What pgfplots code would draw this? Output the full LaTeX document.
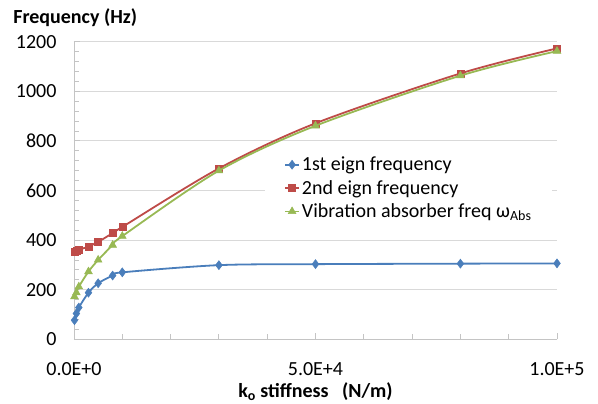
\documentclass[border=0pt]{standalone}
\usepackage{pgfplots}
\pgfplotsset{compat=1.18}
\usepackage{fontspec}
\setmainfont{Carlito}

\definecolor{serA}{HTML}{4A7EBB}
\definecolor{serB}{HTML}{BE4B48}
\definecolor{serC}{HTML}{98B954}
\definecolor{gridgray}{HTML}{D9D9D9}
\definecolor{axisgray}{HTML}{C4C4C4}

\begin{document}
\begin{tikzpicture}
\path[use as bounding box] (-74pt,-64.7pt) rectangle (524pt,339.3pt);
\begin{axis}[
    at={(0,0)}, anchor=south west,
    width=483pt, height=297.6pt, scale only axis,
    clip mode=individual,
    xmin=0, xmax=100000, ymin=0, ymax=1200,
    axis x line*=bottom, axis y line*=left,
    axis line style={draw=axisgray, line width=0.8pt},
    ytick={0,200,...,1200}, minor y tick num=4,
    xtick={0,50000,100000}, xticklabels={0.0E+0,5.0E+4,1.0E+5},
    minor xtick={10000,20000,30000,40000,60000,70000,80000,90000},
    scaled x ticks=false,
    ymajorgrids, grid style={draw=gridgray, line width=0.8pt},
    tick align=inside, major tick length=6pt, minor tick length=5pt,
    tick style={draw=axisgray, line width=0.8pt},
    /pgf/number format/.cd, 1000 sep={}, assume math mode=true, /pgfplots/.cd,
    tick label style={font=\fontsize{20}{24}\selectfont, text=black},
    yticklabel style={xshift=-14pt},
    xticklabel style={yshift=-20pt},
    xlabel={\textbf{k\textsubscript{o} stiffness\ \ \ (N/m)}},
    xlabel style={font=\fontsize{20}{24}\selectfont, at={(axis description cs:0.5,0)},
        anchor=center, yshift=-52pt},
    legend cell align=left,
    legend style={at={(0.3954,0.633)}, anchor=north west, fill=white, draw=none,
        font=\fontsize{20}{24}\selectfont, inner xsep=19pt, inner ysep=4pt,
        nodes={inner sep=2pt}, row sep=4pt},
    legend image code/.code={\draw[mark repeat=2,mark phase=2,#1]
        plot coordinates {(0pt,0pt) (7pt,0pt) (14pt,0pt)};},
    every axis plot/.append style={line width=1.8pt, smooth, tension=0.5},
]
\addplot[color=serA, mark=diamond*, mark size=4.5pt, mark options={line width=0.5pt}]
    coordinates {(100,77) (500,104) (1000,128) (3000,188) (5000,226) (8000,257)
    (10000,270) (30000,299) (50000,303) (80000,305) (100000,306)};
\addlegendentry{1st eign frequency}
\addplot[color=serB, mark=square*, mark size=3.5pt, mark options={line width=0.5pt}]
    coordinates {(100,355) (500,357) (1000,361) (3000,374) (5000,393) (8000,428)
    (10000,453) (30000,689) (50000,871) (80000,1072) (100000,1173)};
\addlegendentry{2nd eign frequency}
\addplot[color=serC, mark=triangle*, mark size=4.5pt, mark options={line width=0.5pt}]
    coordinates {(100,172) (500,188) (1000,212) (3000,273) (5000,320) (8000,380)
    (10000,416) (30000,680) (50000,861) (80000,1063) (100000,1162)};
\addlegendentry{Vibration absorber freq ω\textsubscript{Abs}}
\node[anchor=west, inner sep=0pt, font=\fontsize{20}{24}\selectfont\bfseries]
    at (rel axis cs:-0.126,1.08) {Frequency (Hz)};
\end{axis}
\end{tikzpicture}
\end{document}
